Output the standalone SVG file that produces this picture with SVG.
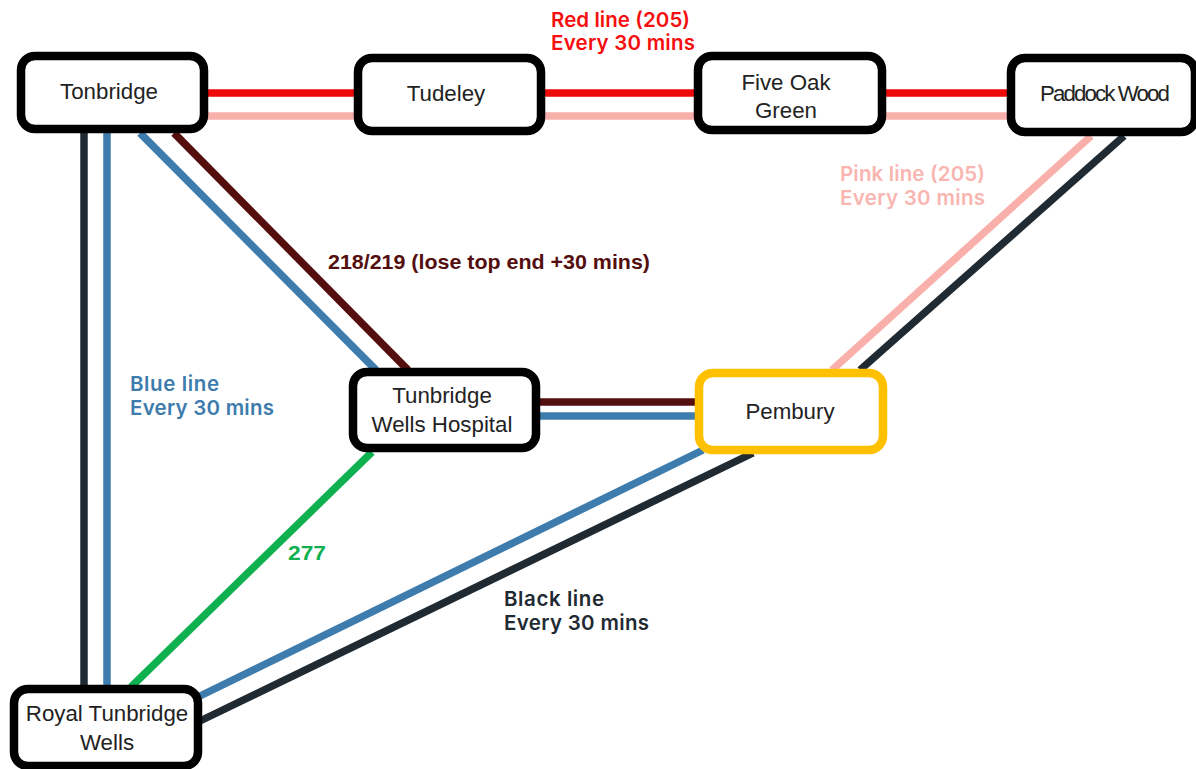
<svg xmlns="http://www.w3.org/2000/svg" width="1196" height="769" viewBox="0 0 1196 769">
<style>
.n{fill:#fff;stroke:#000;stroke-width:8.5}
.t{font-family:"Liberation Sans",Arial,sans-serif;font-size:22.3px;fill:#222;text-anchor:middle}
.l{font-family:Inter,"Open Sans",sans-serif;font-weight:600;font-size:20.5px}
.b{font-family:"Liberation Sans",Arial,sans-serif;font-weight:700;font-size:21px}
.c{fill:none;stroke-width:7.5}
.red{stroke:#ee0a0a}.pink{stroke:#f9b0ab}.blue{stroke:#3d7cad}.blk{stroke:#1f2a33}.mar{stroke:#540e0e}.grn{stroke:#0fb04f}
</style>
<rect width="1196" height="769" fill="#fff"/>
<g id="connectors">
<path class="c red" d="M205 93H358M542 93H698M883 93H1011"/>
<path class="c pink" d="M205 116H358M542 116H698M883 116H1011"/>
<path class="c blk" d="M84 130V688"/>
<path class="c blue" d="M107 130V688"/>
<path class="c blue" d="M140 133L376 370"/>
<path class="c mar" d="M174 133L408 370"/>
<path class="c mar" d="M537 402H698"/>
<path class="c blue" d="M537 416H698"/>
<path class="c grn" d="M372 452L131 687"/>
<path class="c blue" d="M703 450L200 696"/>
<path class="c blk" d="M753 453L200 721"/>
<path class="c pink" d="M1091 136L832 370"/>
<path class="c blk" d="M1124 136L860 370"/>
</g>
<g id="tonbridge"><rect class="n" x="21" y="56" width="183" height="73" rx="14"/><text class="t" x="109" y="99">Tonbridge</text></g>
<g id="tudeley"><rect class="n" x="358" y="58" width="183" height="73" rx="14"/><text class="t" x="446" y="101">Tudeley</text></g>
<g id="five-oak-green"><rect class="n" x="698" y="56" width="184" height="74" rx="14"/><text class="t" x="786" y="90">Five Oak</text><text class="t" x="786" y="118">Green</text></g>
<g id="paddock-wood"><rect class="n" x="1011" y="58" width="184" height="74" rx="14"/><text class="t" x="1105" y="101" textLength="130" lengthAdjust="spacing">Paddock Wood</text></g>
<g id="tunbridge-wells-hospital"><rect class="n" x="353" y="372" width="183" height="76" rx="14"/><text class="t" x="442" y="403">Tunbridge</text><text class="t" x="442" y="432">Wells Hospital</text></g>
<g id="pembury"><rect class="n" x="699" y="373" width="184" height="77" rx="14" style="stroke:#ffc000"/><text class="t" x="790" y="419">Pembury</text></g>
<g id="royal-tunbridge-wells"><rect class="n" x="14" y="689" width="184" height="77" rx="14"/><text class="t" x="107" y="721">Royal Tunbridge</text><text class="t" x="107" y="750">Wells</text></g>
<g id="labels">
<text class="l" fill="#f50f0f"><tspan x="551" y="27" textLength="139">Red line (205)</tspan><tspan x="551" y="50" textLength="144">Every 30 mins</tspan></text>
<text class="l" fill="#f9b5b0"><tspan x="840" y="181" textLength="145">Pink line (205)</tspan><tspan x="840" y="205" textLength="145">Every 30 mins</tspan></text>
<text class="b" fill="#540e0e"><tspan x="328" y="269" textLength="322" lengthAdjust="spacingAndGlyphs">218/219 (lose top end +30 mins)</tspan></text>
<text class="l" fill="#3d7cad"><tspan x="130" y="391" textLength="89">Blue line</tspan><tspan x="130" y="415" textLength="144">Every 30 mins</tspan></text>
<text class="b" fill="#0fb04f" x="288" y="560" textLength="38" lengthAdjust="spacingAndGlyphs">277</text>
<text class="l" fill="#1f2a33"><tspan x="504" y="606" textLength="100">Black line</tspan><tspan x="504" y="630" textLength="145">Every 30 mins</tspan></text>
</g>
</svg>
